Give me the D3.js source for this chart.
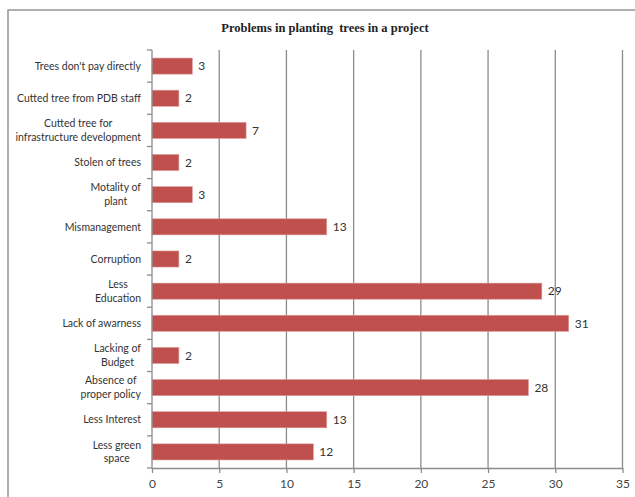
<!DOCTYPE html>
<html><head><meta charset="utf-8">
<script src="https://cdn.jsdelivr.net/npm/d3@7"></script>
<style>body{margin:0;background:#fff}svg{display:block}</style>
</head><body>
<script>
const title = "Problems in planting  trees in a project";
const categories = [
  ["Trees don't pay directly"],
  ["Cutted tree from PDB staff"],
  ["Cutted tree for","infrastructure development"],
  ["Stolen of trees"],
  ["Motality of","plant"],
  ["Mismanagement"],
  ["Corruption"],
  ["Less","Education"],
  ["Lack of awarness"],
  ["Lacking of","Budget"],
  ["Absence of","proper policy"],
  ["Less Interest"],
  ["Less green","space"]
];
const values = [3,2,7,2,3,13,2,29,31,2,28,13,12];
const xTicks = [0,5,10,15,20,25,30,35];

const W=635,H=497;
const svg=d3.select("body").append("svg").attr("width",W).attr("height",H);
svg.append("rect").attr("x",8).attr("y",10).attr("width",W).attr("height",H)
  .attr("fill","#fff").attr("stroke","#868686").attr("stroke-width",1.3);

svg.append("text").attr("x",325).attr("y",32).attr("text-anchor","middle")
  .attr("font-family","Liberation Serif, Times New Roman, serif").attr("font-weight","bold")
  .attr("font-size",12.5).attr("fill","#222").style("white-space","pre").text(title);

const x=d3.scaleLinear().domain([0,35]).range([152,622.5]);
const idx=d3.range(categories.length);
const y=d3.scaleBand().domain(idx).range([50,468]).paddingInner(0.5).paddingOuter(0.25);
const font="Lato, 'Open Sans', sans-serif";

// gridlines
svg.append("g").selectAll("line").data(xTicks.slice(1)).join("line")
  .attr("x1",d=>x(d)).attr("x2",d=>x(d)).attr("y1",50).attr("y2",468)
  .attr("stroke","#8c8c8c").attr("stroke-width",1.3);

// bars
svg.append("g").selectAll("rect").data(idx).join("rect")
  .attr("x",x(0)).attr("y",i=>y(i)).attr("width",i=>x(values[i])-x(0)).attr("height",y.bandwidth())
  .attr("fill","#C0504D").attr("stroke","#d99a98").attr("stroke-width",0.6);

// value labels
svg.append("g").selectAll("text").data(idx).join("text")
  .attr("x",i=>x(values[i])+6).attr("y",i=>y(i)+y.bandwidth()/2).attr("dy","0.35em")
  .attr("font-family",font).attr("font-size",12).attr("fill","#333").text(i=>values[i]);

// x axis
const xa=svg.append("g").attr("transform","translate(0,468)")
  .call(d3.axisBottom(x).tickValues(xTicks).tickSize(5).tickSizeOuter(0));
xa.select(".domain").attr("stroke","#8c8c8c").attr("stroke-width",1.3);
xa.selectAll(".tick line").attr("stroke","#8c8c8c").attr("stroke-width",1.3);
xa.selectAll("text").attr("font-family",font).attr("font-size",12).attr("fill","#444").attr("dy","1.0em");

// y axis line with boundary ticks
const step=(468-50)/categories.length;
const bounds=d3.range(categories.length+1).map(i=>50+i*step);
svg.append("line").attr("x1",152).attr("x2",152).attr("y1",50).attr("y2",468)
  .attr("stroke","#8c8c8c").attr("stroke-width",1.3);
svg.append("g").selectAll("line").data(bounds).join("line")
  .attr("x1",147).attr("x2",152).attr("y1",d=>d).attr("y2",d=>d)
  .attr("stroke","#8c8c8c").attr("stroke-width",1.3);

// category labels (multi-line blocks right-aligned, lines centred within block)
const right=141;
const cl=svg.append("g").selectAll("text").data(idx).join("text")
  .attr("text-anchor","middle").attr("font-family",font).attr("font-size",10.5).attr("fill","#333");
cl.each(function(i){
  const lines=categories[i];
  const cy=y(i)+y.bandwidth()/2;
  const lh=13.8;
  const t=d3.select(this);
  const spans=lines.map((s,k)=>t.append("tspan").attr("y",cy+(k-(lines.length-1)/2)*lh).attr("dy","0.35em").text(s));
  const maxW=d3.max(spans,sp=>sp.node().getComputedTextLength());
  spans.forEach(sp=>sp.attr("x",right-maxW/2));
});
</script>
</body></html>
